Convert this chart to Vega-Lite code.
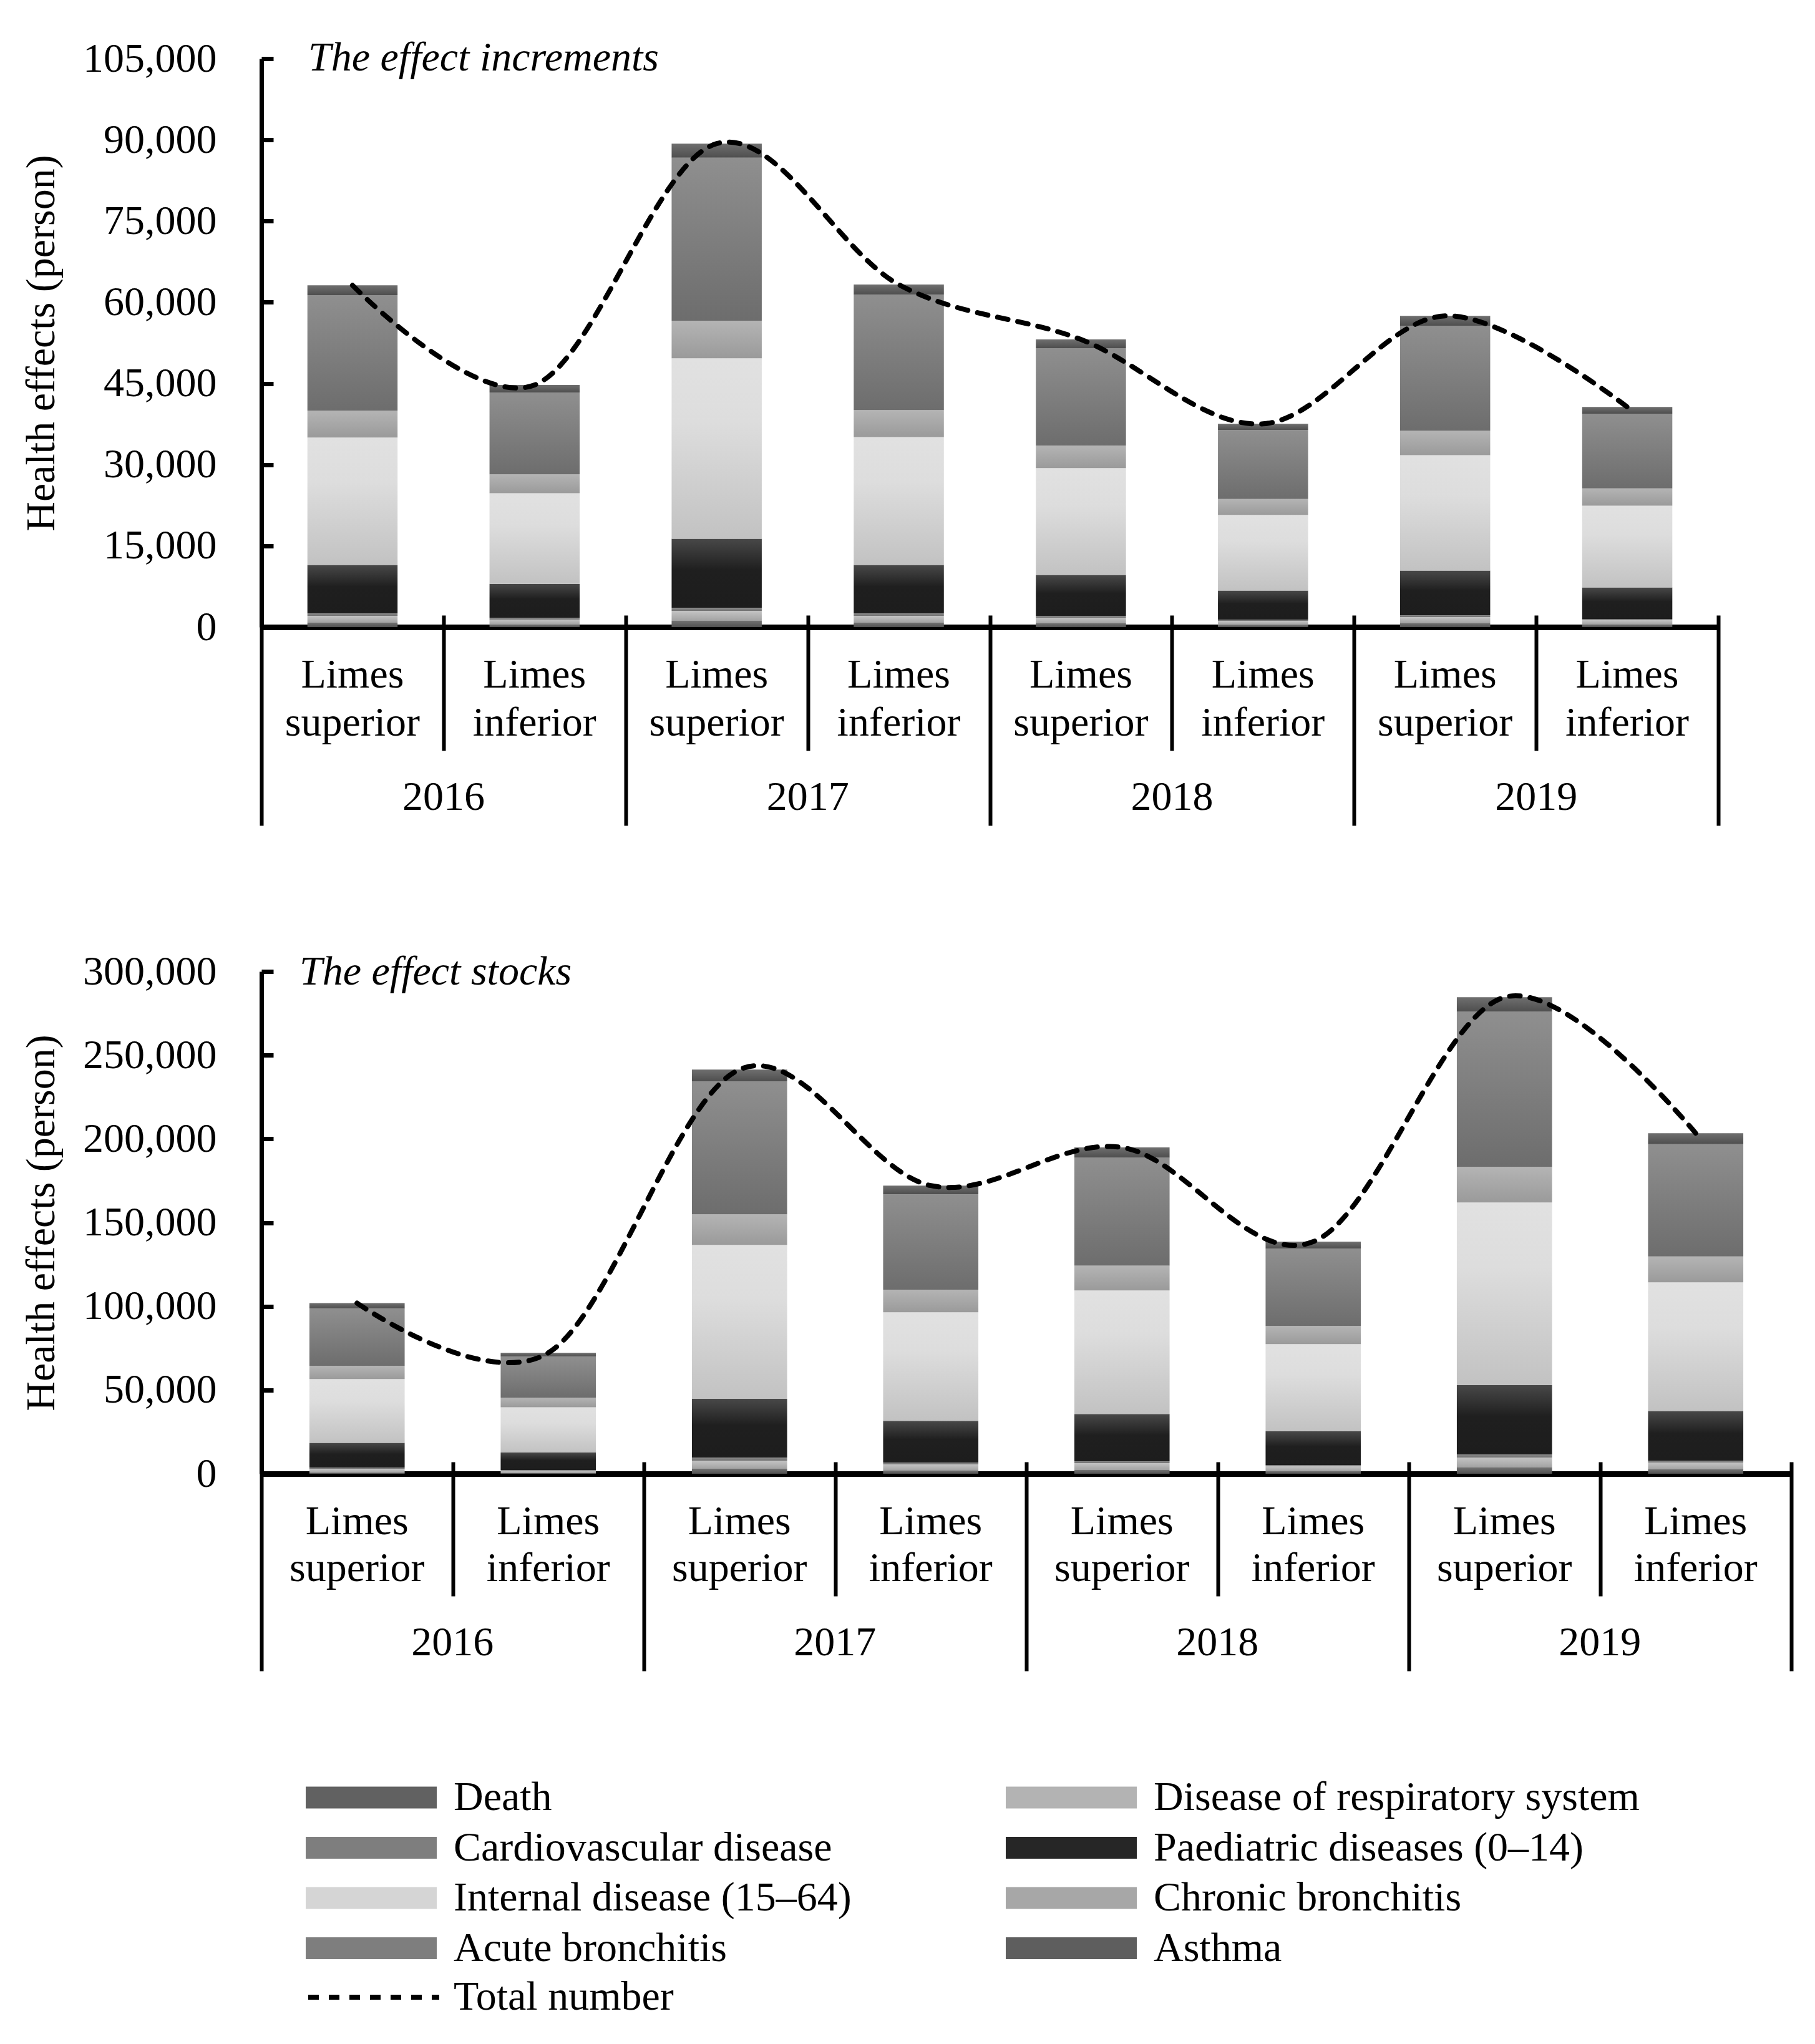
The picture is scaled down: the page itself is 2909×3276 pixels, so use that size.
{
  "$schema": "https://vega.github.io/schema/vega-lite/v6.json",
  "background": "white",
  "padding": {"left": 32, "top": 60, "right": 30, "bottom": 20},
  "datasets": {
    "inc": [
      {"cat": "2016-S", "effect": "Death", "k": 1, "value": 810},
      {"cat": "2016-S", "effect": "Disease of respiratory system", "k": 2, "value": 1270},
      {"cat": "2016-S", "effect": "Cardiovascular disease", "k": 3, "value": 460},
      {"cat": "2016-S", "effect": "Paediatric diseases (0–14)", "k": 4, "value": 8940},
      {"cat": "2016-S", "effect": "Internal disease (15–64)", "k": 5, "value": 23530},
      {"cat": "2016-S", "effect": "Chronic bronchitis", "k": 6, "value": 4970},
      {"cat": "2016-S", "effect": "Acute bronchitis", "k": 7, "value": 21330},
      {"cat": "2016-S", "effect": "Asthma", "k": 8, "value": 1820},
      {"cat": "2016-I", "effect": "Death", "k": 1, "value": 460},
      {"cat": "2016-I", "effect": "Disease of respiratory system", "k": 2, "value": 920},
      {"cat": "2016-I", "effect": "Cardiovascular disease", "k": 3, "value": 350},
      {"cat": "2016-I", "effect": "Paediatric diseases (0–14)", "k": 4, "value": 6260},
      {"cat": "2016-I", "effect": "Internal disease (15–64)", "k": 5, "value": 16740},
      {"cat": "2016-I", "effect": "Chronic bronchitis", "k": 6, "value": 3490},
      {"cat": "2016-I", "effect": "Acute bronchitis", "k": 7, "value": 15110},
      {"cat": "2016-I", "effect": "Asthma", "k": 8, "value": 1390},
      {"cat": "2017-S", "effect": "Death", "k": 1, "value": 1150},
      {"cat": "2017-S", "effect": "Disease of respiratory system", "k": 2, "value": 1850},
      {"cat": "2017-S", "effect": "Cardiovascular disease", "k": 3, "value": 580},
      {"cat": "2017-S", "effect": "Paediatric diseases (0–14)", "k": 4, "value": 12730},
      {"cat": "2017-S", "effect": "Internal disease (15–64)", "k": 5, "value": 33330},
      {"cat": "2017-S", "effect": "Chronic bronchitis", "k": 6, "value": 6940},
      {"cat": "2017-S", "effect": "Acute bronchitis", "k": 7, "value": 30120},
      {"cat": "2017-S", "effect": "Asthma", "k": 8, "value": 2600},
      {"cat": "2017-I", "effect": "Death", "k": 1, "value": 810},
      {"cat": "2017-I", "effect": "Disease of respiratory system", "k": 2, "value": 1270},
      {"cat": "2017-I", "effect": "Cardiovascular disease", "k": 3, "value": 460},
      {"cat": "2017-I", "effect": "Paediatric diseases (0–14)", "k": 4, "value": 8940},
      {"cat": "2017-I", "effect": "Internal disease (15–64)", "k": 5, "value": 23620},
      {"cat": "2017-I", "effect": "Chronic bronchitis", "k": 6, "value": 4980},
      {"cat": "2017-I", "effect": "Acute bronchitis", "k": 7, "value": 21330},
      {"cat": "2017-I", "effect": "Asthma", "k": 8, "value": 1860},
      {"cat": "2018-S", "effect": "Death", "k": 1, "value": 690},
      {"cat": "2018-S", "effect": "Disease of respiratory system", "k": 2, "value": 1040},
      {"cat": "2018-S", "effect": "Cardiovascular disease", "k": 3, "value": 350},
      {"cat": "2018-S", "effect": "Paediatric diseases (0–14)", "k": 4, "value": 7530},
      {"cat": "2018-S", "effect": "Internal disease (15–64)", "k": 5, "value": 19750},
      {"cat": "2018-S", "effect": "Chronic bronchitis", "k": 6, "value": 4160},
      {"cat": "2018-S", "effect": "Acute bronchitis", "k": 7, "value": 17990},
      {"cat": "2018-S", "effect": "Asthma", "k": 8, "value": 1620},
      {"cat": "2018-I", "effect": "Death", "k": 1, "value": 380},
      {"cat": "2018-I", "effect": "Disease of respiratory system", "k": 2, "value": 770},
      {"cat": "2018-I", "effect": "Cardiovascular disease", "k": 3, "value": 230},
      {"cat": "2018-I", "effect": "Paediatric diseases (0–14)", "k": 4, "value": 5360},
      {"cat": "2018-I", "effect": "Internal disease (15–64)", "k": 5, "value": 13970},
      {"cat": "2018-I", "effect": "Chronic bronchitis", "k": 6, "value": 2960},
      {"cat": "2018-I", "effect": "Acute bronchitis", "k": 7, "value": 12720},
      {"cat": "2018-I", "effect": "Asthma", "k": 8, "value": 1150},
      {"cat": "2019-S", "effect": "Death", "k": 1, "value": 690},
      {"cat": "2019-S", "effect": "Disease of respiratory system", "k": 2, "value": 1160},
      {"cat": "2019-S", "effect": "Cardiovascular disease", "k": 3, "value": 340},
      {"cat": "2019-S", "effect": "Paediatric diseases (0–14)", "k": 4, "value": 8240},
      {"cat": "2019-S", "effect": "Internal disease (15–64)", "k": 5, "value": 21330},
      {"cat": "2019-S", "effect": "Chronic bronchitis", "k": 6, "value": 4490},
      {"cat": "2019-S", "effect": "Acute bronchitis", "k": 7, "value": 19420},
      {"cat": "2019-S", "effect": "Asthma", "k": 8, "value": 1810},
      {"cat": "2019-I", "effect": "Death", "k": 1, "value": 460},
      {"cat": "2019-I", "effect": "Disease of respiratory system", "k": 2, "value": 810},
      {"cat": "2019-I", "effect": "Cardiovascular disease", "k": 3, "value": 230},
      {"cat": "2019-I", "effect": "Paediatric diseases (0–14)", "k": 4, "value": 5820},
      {"cat": "2019-I", "effect": "Internal disease (15–64)", "k": 5, "value": 15110},
      {"cat": "2019-I", "effect": "Chronic bronchitis", "k": 6, "value": 3200},
      {"cat": "2019-I", "effect": "Acute bronchitis", "k": 7, "value": 13780},
      {"cat": "2019-I", "effect": "Asthma", "k": 8, "value": 1240}
    ],
    "stock": [
      {"cat": "2016-S", "effect": "Death", "k": 1, "value": 500},
      {"cat": "2016-S", "effect": "Disease of respiratory system", "k": 2, "value": 2490},
      {"cat": "2016-S", "effect": "Cardiovascular disease", "k": 3, "value": 750},
      {"cat": "2016-S", "effect": "Paediatric diseases (0–14)", "k": 4, "value": 14670},
      {"cat": "2016-S", "effect": "Internal disease (15–64)", "k": 5, "value": 38100},
      {"cat": "2016-S", "effect": "Chronic bronchitis", "k": 6, "value": 7900},
      {"cat": "2016-S", "effect": "Acute bronchitis", "k": 7, "value": 34300},
      {"cat": "2016-S", "effect": "Asthma", "k": 8, "value": 3200},
      {"cat": "2016-I", "effect": "Death", "k": 1, "value": 400},
      {"cat": "2016-I", "effect": "Disease of respiratory system", "k": 2, "value": 1470},
      {"cat": "2016-I", "effect": "Cardiovascular disease", "k": 3, "value": 370},
      {"cat": "2016-I", "effect": "Paediatric diseases (0–14)", "k": 4, "value": 10460},
      {"cat": "2016-I", "effect": "Internal disease (15–64)", "k": 5, "value": 27000},
      {"cat": "2016-I", "effect": "Chronic bronchitis", "k": 6, "value": 5700},
      {"cat": "2016-I", "effect": "Acute bronchitis", "k": 7, "value": 24600},
      {"cat": "2016-I", "effect": "Asthma", "k": 8, "value": 2200},
      {"cat": "2017-S", "effect": "Death", "k": 1, "value": 2990},
      {"cat": "2017-S", "effect": "Disease of respiratory system", "k": 2, "value": 4850},
      {"cat": "2017-S", "effect": "Cardiovascular disease", "k": 3, "value": 1860},
      {"cat": "2017-S", "effect": "Paediatric diseases (0–14)", "k": 4, "value": 35000},
      {"cat": "2017-S", "effect": "Internal disease (15–64)", "k": 5, "value": 92000},
      {"cat": "2017-S", "effect": "Chronic bronchitis", "k": 6, "value": 18200},
      {"cat": "2017-S", "effect": "Acute bronchitis", "k": 7, "value": 79500},
      {"cat": "2017-S", "effect": "Asthma", "k": 8, "value": 7000},
      {"cat": "2017-I", "effect": "Death", "k": 1, "value": 1870},
      {"cat": "2017-I", "effect": "Disease of respiratory system", "k": 2, "value": 3730},
      {"cat": "2017-I", "effect": "Cardiovascular disease", "k": 3, "value": 1120},
      {"cat": "2017-I", "effect": "Paediatric diseases (0–14)", "k": 4, "value": 24880},
      {"cat": "2017-I", "effect": "Internal disease (15–64)", "k": 5, "value": 64800},
      {"cat": "2017-I", "effect": "Chronic bronchitis", "k": 6, "value": 13500},
      {"cat": "2017-I", "effect": "Acute bronchitis", "k": 7, "value": 57000},
      {"cat": "2017-I", "effect": "Asthma", "k": 8, "value": 5200},
      {"cat": "2018-S", "effect": "Death", "k": 1, "value": 2240},
      {"cat": "2018-S", "effect": "Disease of respiratory system", "k": 2, "value": 4100},
      {"cat": "2018-S", "effect": "Cardiovascular disease", "k": 3, "value": 1120},
      {"cat": "2018-S", "effect": "Paediatric diseases (0–14)", "k": 4, "value": 28240},
      {"cat": "2018-S", "effect": "Internal disease (15–64)", "k": 5, "value": 73800},
      {"cat": "2018-S", "effect": "Chronic bronchitis", "k": 6, "value": 14800},
      {"cat": "2018-S", "effect": "Acute bronchitis", "k": 7, "value": 64500},
      {"cat": "2018-S", "effect": "Asthma", "k": 8, "value": 6100},
      {"cat": "2018-I", "effect": "Death", "k": 1, "value": 1490},
      {"cat": "2018-I", "effect": "Disease of respiratory system", "k": 2, "value": 2990},
      {"cat": "2018-I", "effect": "Cardiovascular disease", "k": 3, "value": 740},
      {"cat": "2018-I", "effect": "Paediatric diseases (0–14)", "k": 4, "value": 20080},
      {"cat": "2018-I", "effect": "Internal disease (15–64)", "k": 5, "value": 52100},
      {"cat": "2018-I", "effect": "Chronic bronchitis", "k": 6, "value": 10800},
      {"cat": "2018-I", "effect": "Acute bronchitis", "k": 7, "value": 46200},
      {"cat": "2018-I", "effect": "Asthma", "k": 8, "value": 4200},
      {"cat": "2019-S", "effect": "Death", "k": 1, "value": 3730},
      {"cat": "2019-S", "effect": "Disease of respiratory system", "k": 2, "value": 5970},
      {"cat": "2019-S", "effect": "Cardiovascular disease", "k": 3, "value": 1870},
      {"cat": "2019-S", "effect": "Paediatric diseases (0–14)", "k": 4, "value": 41330},
      {"cat": "2019-S", "effect": "Internal disease (15–64)", "k": 5, "value": 109100},
      {"cat": "2019-S", "effect": "Chronic bronchitis", "k": 6, "value": 21300},
      {"cat": "2019-S", "effect": "Acute bronchitis", "k": 7, "value": 92700},
      {"cat": "2019-S", "effect": "Asthma", "k": 8, "value": 8600},
      {"cat": "2019-I", "effect": "Death", "k": 1, "value": 2610},
      {"cat": "2019-I", "effect": "Disease of respiratory system", "k": 2, "value": 4100},
      {"cat": "2019-I", "effect": "Cardiovascular disease", "k": 3, "value": 1130},
      {"cat": "2019-I", "effect": "Paediatric diseases (0–14)", "k": 4, "value": 29660},
      {"cat": "2019-I", "effect": "Internal disease (15–64)", "k": 5, "value": 76800},
      {"cat": "2019-I", "effect": "Chronic bronchitis", "k": 6, "value": 15500},
      {"cat": "2019-I", "effect": "Acute bronchitis", "k": 7, "value": 67100},
      {"cat": "2019-I", "effect": "Asthma", "k": 8, "value": 6500}
    ]
  },
  "spacing": 552,
  "bounds": "flush",
  "resolve": {"scale": {"x": "independent", "y": "independent", "color": "shared", "strokeDash": "shared"}},
  "vconcat": [
    {
      "data": {"name": "inc"},
      "width": 2335,
      "height": 911,
      "title": {"text": "The effect increments", "dx": 75, "dy": 70},
      "resolve": {"scale": {"x": "shared"}, "axis": {"x": "independent"}},
      "layer": [
        {
          "mark": {"type": "bar", "width": {"band": 0.495}},
          "encoding": {
            "x": {"field": "cat", "type": "nominal", "sort": null,
              "scale": {"type": "band", "domain": ["2016-S","2016-I","2017-S","2017-I","2018-S","2018-I","2019-S","2019-I"], "paddingInner": 0, "paddingOuter": 0},
              "axis": {"orient": "bottom", "title": null, "domain": true, "domainWidth": 9, "ticks": false, "tickSize": 0, "labelAngle": 0, "labelPadding": 96, "labelBaseline": "alphabetic", "labelLineHeight": 77, "labelOverlap": false, "labelLimit": 1000,
                "labelExpr": "slice(datum.value, 5) == 'S' ? ['Limes', 'superior'] : ['Limes', 'inferior']"}},
            "y": {"aggregate": "sum", "field": "value", "type": "quantitative",
              "scale": {"domain": [0, 105000], "nice": false},
              "axis": {"values": [0, 15000, 30000, 45000, 60000, 75000, 90000, 105000], "format": ",d", "title": "Health effects (person)", "titleX": -333, "titleBaseline": "alphabetic", "tickSize": -19, "tickWidth": 7, "domainWidth": 7, "labelPadding": 91, "labelFlush": false, "labelOverlap": false, "labelLimit": 1000}},
            "color": {
              "condition": [
                {"test": "datum.effect === 'Death'", "value": {"gradient": "linear", "x1": 0, "y1": 0, "x2": 0, "y2": 1, "stops": [{"offset": 0, "color": "#727272"}, {"offset": 1, "color": "#515151"}]}},
                {"test": "datum.effect === 'Disease of respiratory system'", "value": {"gradient": "linear", "x1": 0, "y1": 0, "x2": 0, "y2": 1, "stops": [{"offset": 0, "color": "#c4c4c4"}, {"offset": 1, "color": "#a2a2a2"}]}},
                {"test": "datum.effect === 'Cardiovascular disease'", "value": {"gradient": "linear", "x1": 0, "y1": 0, "x2": 0, "y2": 1, "stops": [{"offset": 0, "color": "#8f8f8f"}, {"offset": 1, "color": "#6e6e6e"}]}},
                {"test": "datum.effect === 'Paediatric diseases (0–14)'", "value": {"gradient": "linear", "x1": 0, "y1": 0, "x2": 0, "y2": 1, "stops": [{"offset": 0, "color": "#484848"}, {"offset": 0.45, "color": "#1f1f1f"}, {"offset": 1, "color": "#1d1d1d"}]}},
                {"test": "datum.effect === 'Internal disease (15–64)'", "value": {"gradient": "linear", "x1": 0, "y1": 0, "x2": 0, "y2": 1, "stops": [{"offset": 0, "color": "#e1e1e1"}, {"offset": 0.35, "color": "#dddddd"}, {"offset": 1, "color": "#c2c2c2"}]}},
                {"test": "datum.effect === 'Chronic bronchitis'", "value": {"gradient": "linear", "x1": 0, "y1": 0, "x2": 0, "y2": 1, "stops": [{"offset": 0, "color": "#b4b4b4"}, {"offset": 1, "color": "#9a9a9a"}]}},
                {"test": "datum.effect === 'Acute bronchitis'", "value": {"gradient": "linear", "x1": 0, "y1": 0, "x2": 0, "y2": 1, "stops": [{"offset": 0, "color": "#8f8f8f"}, {"offset": 1, "color": "#6d6d6d"}]}},
                {"test": "datum.effect === 'Asthma'", "value": {"gradient": "linear", "x1": 0, "y1": 0, "x2": 0, "y2": 1, "stops": [{"offset": 0, "color": "#6f6f6f"}, {"offset": 1, "color": "#4e4e4e"}]}}
              ],
              "field": "effect", "type": "nominal",
              "scale": {"domain": ["Death", "Disease of respiratory system", "Cardiovascular disease", "Paediatric diseases (0–14)", "Internal disease (15–64)", "Chronic bronchitis", "Acute bronchitis", "Asthma"],
                "range": ["#616161", "#b3b3b3", "#7e7e7e", "#262626", "#d5d5d5", "#a7a7a7", "#7e7e7e", "#5e5e5e"]},
              "legend": {"orient": "none", "legendX": 141, "legendY": 2752, "columns": 2, "direction": "horizontal", "title": null, "symbolType": "M-3,-0.5H3V0.5H-3Z", "symbolSize": 4900, "symbolStrokeWidth": 0, "labelOffset": 97, "columnPadding": 247, "rowPadding": 12.5, "padding": 0, "labelLimit": 3000,
                "encode": {"symbols": {"update": {"fill": {"signal": "datum.value === 'Death' ? {gradient: 'linear', x1: 0, y1: 0, x2: 0, y2: 1, stops: [{offset: 0, color: '#737373'}, {offset: 1, color: '#525252'}]} : datum.value === 'Disease of respiratory system' ? {gradient: 'linear', x1: 0, y1: 0, x2: 0, y2: 1, stops: [{offset: 0, color: '#c2c2c2'}, {offset: 1, color: '#a0a0a0'}]} : datum.value === 'Cardiovascular disease' ? {gradient: 'linear', x1: 0, y1: 0, x2: 0, y2: 1, stops: [{offset: 0, color: '#8f8f8f'}, {offset: 1, color: '#6e6e6e'}]} : datum.value === 'Paediatric diseases (0–14)' ? {gradient: 'linear', x1: 0, y1: 0, x2: 0, y2: 1, stops: [{offset: 0, color: '#484848'}, {offset: 0.45, color: '#1f1f1f'}, {offset: 1, color: '#1d1d1d'}]} : datum.value === 'Internal disease (15–64)' ? {gradient: 'linear', x1: 0, y1: 0, x2: 0, y2: 1, stops: [{offset: 0, color: '#e1e1e1'}, {offset: 0.35, color: '#dddddd'}, {offset: 1, color: '#c2c2c2'}]} : datum.value === 'Chronic bronchitis' ? {gradient: 'linear', x1: 0, y1: 0, x2: 0, y2: 1, stops: [{offset: 0, color: '#b4b4b4'}, {offset: 1, color: '#9a9a9a'}]} : datum.value === 'Acute bronchitis' ? {gradient: 'linear', x1: 0, y1: 0, x2: 0, y2: 1, stops: [{offset: 0, color: '#8f8f8f'}, {offset: 1, color: '#6d6d6d'}]} : {gradient: 'linear', x1: 0, y1: 0, x2: 0, y2: 1, stops: [{offset: 0, color: '#6f6f6f'}, {offset: 1, color: '#4e4e4e'}]}"}}}}}},
            "order": {"field": "k", "type": "quantitative"}
          }
        },
        {
          "mark": {"type": "line", "interpolate": "cardinal", "strokeWidth": 8, "color": "black", "strokeCap": "round"},
          "encoding": {
            "x": {"field": "cat", "type": "nominal", "sort": null,
              "axis": {"orient": "bottom", "title": null, "domain": false, "labels": false, "ticks": true, "tickBand": "extent", "offset": -19, "tickWidth": 6, "tickColor": "black",
                "tickSize": {"condition": {"test": "datum.value == null || slice(datum.value, 5) == 'I'", "value": 337}, "value": 217}}},
            "y": {"aggregate": "sum", "field": "value", "type": "quantitative"},
            "strokeDash": {"datum": "Total number", "type": "nominal", "scale": {"range": [[17, 16]]},
              "legend": {"orient": "none", "legendX": 141, "legendY": 3068, "title": null, "symbolType": "M-3,0H3", "symbolSize": 4900, "symbolStrokeWidth": 8, "symbolStrokeColor": "black", "labelOffset": 89, "padding": 0, "labelLimit": 3000}}
          }
        },
        {
          "mark": {"type": "point", "opacity": 0},
          "encoding": {
            "x": {"field": "cat", "type": "nominal", "sort": null,
              "axis": {"orient": "bottom", "title": null, "domain": false, "ticks": false, "tickSize": 0, "labelAngle": 0, "labelOffset": 146, "labelPadding": 292, "labelBaseline": "alphabetic", "labelOverlap": false, "labelLimit": 1000,
                "labelExpr": "slice(datum.value, 5) == 'S' ? slice(datum.value, 0, 4) : ''"}},
            "y": {"aggregate": "sum", "field": "value", "type": "quantitative"}
          }
        }
      ]
    },
    {
      "data": {"name": "stock"},
      "width": 2452,
      "height": 805,
      "title": {"text": "The effect stocks", "dx": 61, "dy": 72},
      "resolve": {"scale": {"x": "shared"}, "axis": {"x": "independent"}},
      "layer": [
        {
          "mark": {"type": "bar", "width": {"band": 0.498}},
          "encoding": {
            "x": {"field": "cat", "type": "nominal", "sort": null,
              "scale": {"type": "band", "domain": ["2016-S","2016-I","2017-S","2017-I","2018-S","2018-I","2019-S","2019-I"], "paddingInner": 0, "paddingOuter": 0},
              "axis": {"orient": "bottom", "title": null, "domain": true, "domainWidth": 9, "ticks": false, "tickSize": 0, "labelAngle": 0, "labelPadding": 96, "labelBaseline": "alphabetic", "labelLineHeight": 75, "labelOverlap": false, "labelLimit": 1000,
                "labelExpr": "slice(datum.value, 5) == 'S' ? ['Limes', 'superior'] : ['Limes', 'inferior']"}},
            "y": {"aggregate": "sum", "field": "value", "type": "quantitative",
              "scale": {"domain": [0, 300000], "nice": false},
              "axis": {"values": [0, 50000, 100000, 150000, 200000, 250000, 300000], "format": ",d", "title": "Health effects (person)", "titleX": -333, "titleBaseline": "alphabetic", "tickSize": -19, "tickWidth": 7, "domainWidth": 7, "labelPadding": 91, "labelFlush": false, "labelOverlap": false, "labelLimit": 1000}},
            "color": {
              "condition": [
                {"test": "datum.effect === 'Death'", "value": {"gradient": "linear", "x1": 0, "y1": 0, "x2": 0, "y2": 1, "stops": [{"offset": 0, "color": "#727272"}, {"offset": 1, "color": "#515151"}]}},
                {"test": "datum.effect === 'Disease of respiratory system'", "value": {"gradient": "linear", "x1": 0, "y1": 0, "x2": 0, "y2": 1, "stops": [{"offset": 0, "color": "#c4c4c4"}, {"offset": 1, "color": "#a2a2a2"}]}},
                {"test": "datum.effect === 'Cardiovascular disease'", "value": {"gradient": "linear", "x1": 0, "y1": 0, "x2": 0, "y2": 1, "stops": [{"offset": 0, "color": "#8f8f8f"}, {"offset": 1, "color": "#6e6e6e"}]}},
                {"test": "datum.effect === 'Paediatric diseases (0–14)'", "value": {"gradient": "linear", "x1": 0, "y1": 0, "x2": 0, "y2": 1, "stops": [{"offset": 0, "color": "#484848"}, {"offset": 0.45, "color": "#1f1f1f"}, {"offset": 1, "color": "#1d1d1d"}]}},
                {"test": "datum.effect === 'Internal disease (15–64)'", "value": {"gradient": "linear", "x1": 0, "y1": 0, "x2": 0, "y2": 1, "stops": [{"offset": 0, "color": "#e1e1e1"}, {"offset": 0.35, "color": "#dddddd"}, {"offset": 1, "color": "#c2c2c2"}]}},
                {"test": "datum.effect === 'Chronic bronchitis'", "value": {"gradient": "linear", "x1": 0, "y1": 0, "x2": 0, "y2": 1, "stops": [{"offset": 0, "color": "#b4b4b4"}, {"offset": 1, "color": "#9a9a9a"}]}},
                {"test": "datum.effect === 'Acute bronchitis'", "value": {"gradient": "linear", "x1": 0, "y1": 0, "x2": 0, "y2": 1, "stops": [{"offset": 0, "color": "#8f8f8f"}, {"offset": 1, "color": "#6d6d6d"}]}},
                {"test": "datum.effect === 'Asthma'", "value": {"gradient": "linear", "x1": 0, "y1": 0, "x2": 0, "y2": 1, "stops": [{"offset": 0, "color": "#6f6f6f"}, {"offset": 1, "color": "#4e4e4e"}]}}
              ],
              "field": "effect", "type": "nominal",
              "legend": {"orient": "none", "legendX": 141, "legendY": 2752, "columns": 2, "direction": "horizontal", "title": null, "symbolType": "M-3,-0.5H3V0.5H-3Z", "symbolSize": 4900, "symbolStrokeWidth": 0, "labelOffset": 97, "columnPadding": 247, "rowPadding": 12.5, "padding": 0, "labelLimit": 3000,
                "encode": {"symbols": {"update": {"fill": {"signal": "datum.value === 'Death' ? {gradient: 'linear', x1: 0, y1: 0, x2: 0, y2: 1, stops: [{offset: 0, color: '#737373'}, {offset: 1, color: '#525252'}]} : datum.value === 'Disease of respiratory system' ? {gradient: 'linear', x1: 0, y1: 0, x2: 0, y2: 1, stops: [{offset: 0, color: '#c2c2c2'}, {offset: 1, color: '#a0a0a0'}]} : datum.value === 'Cardiovascular disease' ? {gradient: 'linear', x1: 0, y1: 0, x2: 0, y2: 1, stops: [{offset: 0, color: '#8f8f8f'}, {offset: 1, color: '#6e6e6e'}]} : datum.value === 'Paediatric diseases (0–14)' ? {gradient: 'linear', x1: 0, y1: 0, x2: 0, y2: 1, stops: [{offset: 0, color: '#484848'}, {offset: 0.45, color: '#1f1f1f'}, {offset: 1, color: '#1d1d1d'}]} : datum.value === 'Internal disease (15–64)' ? {gradient: 'linear', x1: 0, y1: 0, x2: 0, y2: 1, stops: [{offset: 0, color: '#e1e1e1'}, {offset: 0.35, color: '#dddddd'}, {offset: 1, color: '#c2c2c2'}]} : datum.value === 'Chronic bronchitis' ? {gradient: 'linear', x1: 0, y1: 0, x2: 0, y2: 1, stops: [{offset: 0, color: '#b4b4b4'}, {offset: 1, color: '#9a9a9a'}]} : datum.value === 'Acute bronchitis' ? {gradient: 'linear', x1: 0, y1: 0, x2: 0, y2: 1, stops: [{offset: 0, color: '#8f8f8f'}, {offset: 1, color: '#6d6d6d'}]} : {gradient: 'linear', x1: 0, y1: 0, x2: 0, y2: 1, stops: [{offset: 0, color: '#6f6f6f'}, {offset: 1, color: '#4e4e4e'}]}"}}}}}},
            "order": {"field": "k", "type": "quantitative"}
          }
        },
        {
          "mark": {"type": "line", "interpolate": "cardinal", "strokeWidth": 8, "color": "black", "strokeCap": "round"},
          "encoding": {
            "x": {"field": "cat", "type": "nominal", "sort": null,
              "axis": {"orient": "bottom", "title": null, "domain": false, "labels": false, "ticks": true, "tickBand": "extent", "offset": -19, "tickWidth": 6, "tickColor": "black",
                "tickSize": {"condition": {"test": "datum.value == null || slice(datum.value, 5) == 'I'", "value": 335}, "value": 215}}},
            "y": {"aggregate": "sum", "field": "value", "type": "quantitative"},
            "strokeDash": {"datum": "Total number", "type": "nominal",
              "legend": {"orient": "none", "legendX": 141, "legendY": 3068, "title": null, "symbolType": "M-3,0H3", "symbolSize": 4900, "symbolStrokeWidth": 8, "symbolStrokeColor": "black", "labelOffset": 89, "padding": 0, "labelLimit": 3000}}
          }
        },
        {
          "mark": {"type": "point", "opacity": 0},
          "encoding": {
            "x": {"field": "cat", "type": "nominal", "sort": null,
              "axis": {"orient": "bottom", "title": null, "domain": false, "ticks": false, "tickSize": 0, "labelAngle": 0, "labelOffset": 153, "labelPadding": 290, "labelBaseline": "alphabetic", "labelOverlap": false, "labelLimit": 1000,
                "labelExpr": "slice(datum.value, 5) == 'S' ? slice(datum.value, 0, 4) : ''"}},
            "y": {"aggregate": "sum", "field": "value", "type": "quantitative"}
          }
        }
      ]
    }
  ],
  "config": {
    "font": "Liberation Serif",
    "view": {"stroke": null},
    "axis": {"labelFont": "Liberation Serif", "titleFont": "Liberation Serif", "labelFontSize": 66, "titleFontSize": 66, "titleFontWeight": "normal", "labelColor": "black", "titleColor": "black", "domainColor": "black", "tickColor": "black", "grid": false},
    "legend": {"labelFont": "Liberation Serif", "labelFontSize": 66, "labelColor": "black"},
    "title": {"font": "Liberation Serif", "fontSize": 66, "fontStyle": "italic", "fontWeight": "normal", "anchor": "start", "frame": "group", "baseline": "alphabetic", "offset": 0, "color": "black"}
  }
}
